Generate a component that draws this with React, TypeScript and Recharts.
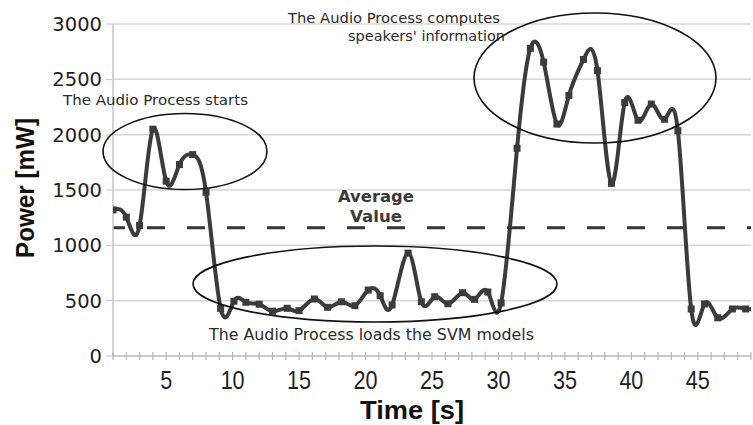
import React from 'react';
import { LineChart, Line, XAxis, YAxis, CartesianGrid, ReferenceLine } from 'recharts';

const times = [
  1, 2, 3, 4, 5, 6, 7, 8, 9.1, 10.1, 11, 12, 13, 14.1, 15, 16.15, 17.15, 18.2,
  19.2, 20.2, 21.1, 22, 23.2, 24.2, 25.2, 26.2, 27.3, 28.2, 29.2, 30.2, 31.4,
  32.4, 33.4, 34.4, 35.3, 36.4, 37.45, 38.5, 39.5, 40.5, 41.5, 42.5, 43.5,
  44.5, 45.5, 46.5, 47.6, 48.6, 49.6,
];
const power = [
  1320, 1255, 1180, 2050, 1580, 1730, 1820, 1480, 430, 495, 485, 468, 405, 431,
  410, 515, 440, 490, 455, 596, 545, 461, 930, 490, 536, 472, 572, 512, 578,
  480, 1877, 2780, 2655, 2096, 2355, 2680, 2578, 1560, 2290, 2130, 2277, 2139,
  2036, 425, 470, 345, 425, 425, 430,
];
const averageValue = 1160;
const xTicks = Array.from({ length: 49 }, (_, i) => i + 1);
const yTicks = [0, 500, 1000, 1500, 2000, 2500, 3000];

const data = times.map((t, i) => ({ t, p: power[i] }));

const INK = '#3b3b3b';

function XTick(props: any) {
  const { x, y, payload } = props;
  const v = payload.value;
  const label = String(v);
  return (
    <g>
      <line x1={x} x2={x} y1={y - 4} y2={y + 4} stroke="#b4b4b4" strokeWidth={1.2} />
      {v % 5 === 0 && (
        <text x={x} y={y + 33} textAnchor="middle" fontSize={26} fill="#1e1e1e"
          textLength={12 * label.length} lengthAdjust="spacingAndGlyphs"
          fontFamily="'Liberation Sans', Arial, sans-serif">
          {label}
        </text>
      )}
    </g>
  );
}

function SquareDot(props: any) {
  const { cx, cy, index } = props;
  if (cx == null || cy == null) return null;
  return <rect key={index} x={cx - 3.5} y={cy - 3.5} width={7} height={7} fill={INK} />;
}

export default function App() {
  const note = { fontFamily: "'DejaVu Sans', Verdana, sans-serif", fill: '#2a2a2a' };
  return (
    <div style={{ position: 'absolute', left: 0, top: 0, width: 753, height: 425, background: '#fff' }}>
      <LineChart width={753} height={425} data={data}
        margin={{ top: 24, right: 2, bottom: 0, left: 0 }}>
        <CartesianGrid vertical={false} stroke="#d6d6d6" strokeWidth={1.5} />
        <XAxis dataKey="t" type="number" domain={[1, 49]} ticks={xTicks} interval={0}
          allowDataOverflow height={69} tickSize={0} tickMargin={0} tickLine={false}
          axisLine={{ stroke: '#c4c4c4', strokeWidth: 1.5 }} tick={<XTick />} />
        <YAxis type="number" domain={[0, 3000]} ticks={yTicks} width={113}
          tickSize={7} tickMargin={4}
          axisLine={{ stroke: '#c4c4c4', strokeWidth: 1.5 }}
          tickLine={{ stroke: '#c4c4c4' }}
          tick={{ fontSize: 19.5, fill: '#1e1e1e', fontFamily: "'DejaVu Sans', sans-serif" }} />
        <ReferenceLine y={averageValue} stroke="#333" strokeWidth={3}
          strokeDasharray="18 22" strokeDashoffset={6} />
        <Line type="natural" dataKey="p" stroke={INK} strokeWidth={4}
          dot={<SquareDot />} activeDot={false} isAnimationActive={false} />
      </LineChart>

      <svg width={753} height={425} style={{ position: 'absolute', left: 0, top: 0, pointerEvents: 'none' }}>
        {/* annotation ellipses */}
        <ellipse cx={185} cy={151.5} rx={82} ry={38} fill="none" stroke="#111" strokeWidth={1.6} />
        <ellipse cx={375} cy={284} rx={182} ry={38} fill="none" stroke="#111" strokeWidth={1.6} />
        <ellipse cx={595} cy={78} rx={121} ry={65} fill="none" stroke="#111" strokeWidth={1.6} />

        {/* annotation texts */}
        <text x={63} y={105} fontSize={14} textLength={185} lengthAdjust="spacingAndGlyphs" {...note}>
          The Audio Process starts
        </text>
        <text x={288} y={22.5} fontSize={14.5} textLength={212} lengthAdjust="spacingAndGlyphs" {...note}>
          The Audio Process computes
        </text>
        <text x={348} y={40.5} fontSize={14.5} textLength={157} lengthAdjust="spacingAndGlyphs" {...note}>
          speakers' information
        </text>
        <text x={209} y={340} fontSize={15.5} textLength={325} lengthAdjust="spacingAndGlyphs" {...note}>
          The Audio Process loads the SVM models
        </text>
        <text x={338} y={201.5} fontSize={16} fontWeight="bold" textLength={76} lengthAdjust="spacingAndGlyphs"
          fontFamily="'DejaVu Sans', sans-serif" fill="#3a3a3a">
          Average
        </text>
        <text x={350} y={221.5} fontSize={16} fontWeight="bold" textLength={52} lengthAdjust="spacingAndGlyphs"
          fontFamily="'DejaVu Sans', sans-serif" fill="#3a3a3a">
          Value
        </text>

        {/* axis titles */}
        <text x={412} y={419} textAnchor="middle" fontSize={26} fontWeight="bold" fill="#111"
          textLength={104} lengthAdjust="spacingAndGlyphs"
          fontFamily="'Liberation Sans', Arial, sans-serif">
          Time [s]
        </text>
        <text x={25} y={188} dy="0.36em" textAnchor="middle" fontSize={25} fontWeight="bold" fill="#111"
          textLength={140} lengthAdjust="spacingAndGlyphs" transform="rotate(-90 25 188)"
          fontFamily="'Liberation Sans', Arial, sans-serif">
          Power [mW]
        </text>
      </svg>
    </div>
  );
}
